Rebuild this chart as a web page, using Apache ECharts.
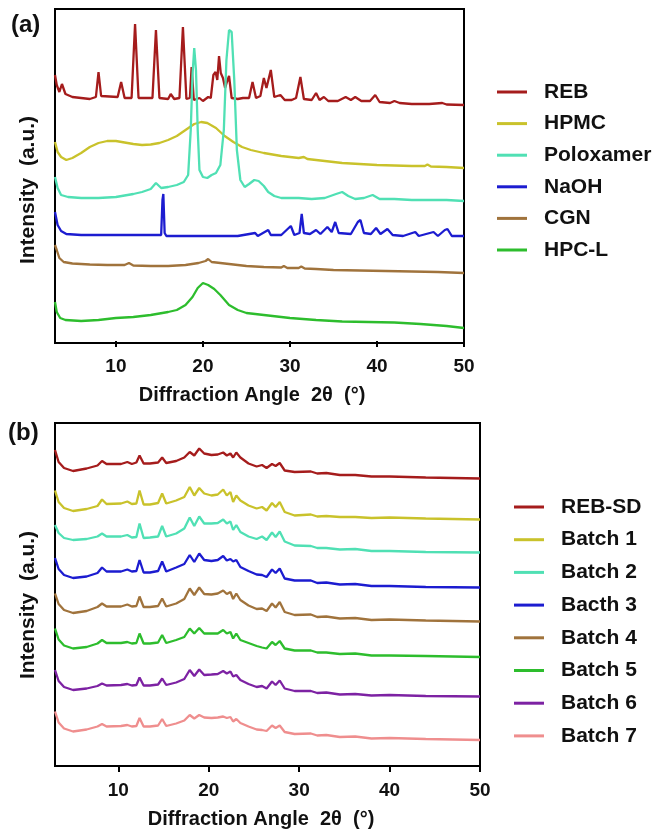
<!DOCTYPE html>
<html>
<head>
<meta charset="utf-8">
<script src="https://cdn.jsdelivr.net/npm/echarts@6/dist/echarts.min.js"></script>
<style>html,body{margin:0;padding:0;background:#fff;}#c{width:666px;height:833px;}</style>
</head>
<body>
<div id="c"></div>
<script>
// ---------- Panel (a): raw components, [2θ, intensity (a.u., offset)] ----------
const namesA = ['REB', 'HPMC', 'Poloxamer', 'NaOH', 'CGN', 'HPC-L'];
const REB = [[3,266],[3.2,256],[3.5,249],[3.8,257],[4.2,247],[5,244],[7,242],[7.7,244],[8.0,269],[8.3,245],[10.2,244],[10.6,259],[11.0,243],[11.8,243],[12.2,317],[12.6,243],[14.2,243],[14.6,311],[15.0,243],[16.0,242],[16.3,247],[16.7,242],[17.3,243],[17.7,314],[18.1,242],[18.5,243],[18.7,274],[18.95,241],[19.6,243],[20.0,240],[20.6,244],[20.9,243],[21.2,266],[21.45,269],[21.65,261],[21.85,285],[22.05,268],[22.3,263],[22.55,253],[22.75,259],[23.0,265],[23.3,243],[24,242],[24.6,243],[25.3,243],[25.7,259],[26.1,243],[26.6,245],[27.0,263],[27.3,253],[27.8,271],[28.2,244],[28.9,246],[29.4,241],[30.2,241],[30.7,243],[31.2,264],[31.6,242],[32.5,241],[33.0,248],[33.4,241],[33.9,244],[34.4,240],[35.5,240],[36.4,244],[37.0,241],[37.5,244],[38.2,240],[39.2,240],[39.8,246],[40.3,239],[41.5,238],[42,240],[42.6,238],[44,237],[46,237],[47.5,238],[48,236.5],[50,236]];
const HPMC = [[3,199],[3.3,189],[3.7,184],[4.3,181],[5,183],[6,188],[7,194],[8,198],[9,200],[10,200],[11,198.5],[12,197],[13,196],[14,196.5],[15,198],[16,201],[17,205],[18,211],[19,217],[19.8,219],[20.5,218],[21.5,213],[22.5,205],[23.5,199],[24.5,194],[25.5,191],[27,188],[29,185],[31,183],[31.6,184],[32,182],[34,180],[36,178],[38,177],[40,176],[42,175.5],[44,175],[45.5,175],[45.8,176.5],[46.2,174.5],[48,174],[50,173]];
const POLOXAMER = [[3,164],[3.3,153],[3.7,146],[4.5,144],[6,143],[8,143],[10,144],[12,147],[13,149],[14,152],[14.6,158],[15.2,153],[16,154],[17,156],[17.8,159],[18.3,166],[18.6,211],[18.8,266],[19.0,293],[19.2,271],[19.4,211],[19.6,171],[20,164],[20.5,163],[21,166],[21.5,168],[22,176],[22.4,211],[22.7,281],[23.0,311],[23.3,309],[23.6,261],[23.9,191],[24.3,161],[24.8,154],[25.3,157],[25.9,161],[26.4,160],[27.0,155],[27.5,149],[28.2,145],[29,143],[31,143],[32.5,142],[34,143],[35.3,147],[36,149],[36.7,145],[37.5,142],[38.5,143],[39.5,146],[40.3,142],[42,142],[44,141],[46,141],[48,141],[50,140]];
const NAOH = [[3,129],[3.3,116],[3.7,110],[4.3,107],[6,106],[10,106],[14,106],[15.2,106],[15.35,141],[15.45,147],[15.6,108],[15.8,105],[20,105],[24,105],[26,108],[26.3,105],[27.5,111],[27.8,106],[29,106],[30.1,115],[30.5,106],[31.1,108],[31.35,127],[31.6,108],[32.3,107],[33,111],[33.5,107],[34.3,114],[34.8,109],[35.2,119],[35.6,108],[37,107],[37.8,119],[38.1,121],[38.5,108],[39.3,107],[39.9,113],[40.4,107],[41.2,112],[41.8,106],[43,105],[44.4,109],[44.8,105],[46.5,109],[47,105],[47.8,111],[48.1,112],[48.6,105],[50,105]];
const CGN = [[3,96],[3.2,91],[3.5,83],[4,79],[5,77.5],[7,76.5],[9,76],[11,76],[11.5,78],[12,75.5],[14,75],[16,75],[18,76],[19.5,78],[20.3,80],[20.6,82],[21,79],[22,78],[23,77],[25,75],[27,74],[29,73.5],[29.3,75],[29.7,73],[31,73],[31.3,74.5],[31.7,72.5],[33,72],[35,71],[38,70.5],[41,70],[44,69.5],[47,69],[50,68]];
const HPCL = [[3,39],[3.2,29],[3.6,23],[4.2,21],[6,20],[8,21],[10,23],[12,24],[14,26],[16,29],[17,31],[18,36],[18.8,44],[19.4,53],[20,58],[20.6,56],[21.3,52],[22,46],[23,36],[24,31],[25,28],[27,26],[30,23],[33,21],[36,19.5],[39,19],[42,18.5],[45,17],[48,15],[50,13]];
const dataA = [REB, HPMC, POLOXAMER, NAOH, CGN, HPCL];

// ---------- Panel (b): formulations, shared 2θ grid ----------
const namesB = ['REB-SD', 'Batch 1', 'Batch 2', 'Bacth 3', 'Batch 4', 'Batch 5', 'Batch 6', 'Batch 7'];
const angleB = [3,3.4,4,5,6.5,7.7,8.2,8.7,10.3,11,11.5,12.0,12.35,12.8,13.5,14.4,14.85,15.3,16.4,17.3,17.9,18.4,18.95,19.5,20.3,21.0,21.6,22.0,22.4,22.7,23.05,23.5,24.4,25.3,25.9,26.4,27.0,27.4,27.85,28.4,29.5,31.3,32,33,34.5,36.2,38,40,44,50];
const REBSD = [316,304,298,295,297.5,300.5,305,302,302,304,302,303.5,310.5,302.5,302.5,303.5,308.5,303,305,308.5,314,310.5,317.5,312.5,311,311.5,313.5,310.5,312.5,308.5,313.5,308.5,302.5,299.5,301,298,302,300,303,295.5,294,294.5,292.5,293,291,291,289.5,289.5,288.5,287.5];
const BATCH1 = [275.5,264,258,255,257,260,266.5,262,262.5,264.5,262,262.5,275.5,261.5,261.5,263,272.5,262.5,265.5,269,279,270.5,278,272.5,270.5,271.5,276.5,270.5,274,264,270.5,265.5,260.5,257.5,259,255.5,263,259,264,254,250.5,251.5,249.5,250,249,249,248,248.5,247.5,246.5];
const BATCH2 = [241,233,228,226,227,229.5,232.5,229.5,229.5,231,228.5,229,242.5,228,228.5,229.5,240,229.5,232.5,237.5,248.5,240,249.5,242.5,242.5,243,246.5,242.5,244.5,236,241,234,229.5,227,229.5,226,233.5,229,234.5,224.5,220.5,220,218,218,216.5,217,215,215,214,213.5];
const BATCH3 = [208,197,191,188,189.5,193,198.5,194.5,194.5,196.5,194.5,195,206,193.5,193.5,195,204.5,194.5,198.5,202,211,204,212.5,206,205,206,210,205.5,207,204.5,206,199,195,191.5,191,189,196.5,193,197.5,187.5,185.5,185.5,183,183.5,181.5,182,180,180,179,178.5];
const BATCH4 = [172.5,162,156,153,155,159,162.5,159.5,159.5,161.5,159.5,160,169.5,159,159,160,167.5,159.5,162.5,167,177.5,171,178.5,172,171.5,172.5,175.5,172,174,167,172.5,166,160.5,157,157.5,155,162.5,158.5,164,154,151,151.5,149,149.5,147.5,148,146,146.5,145.5,144.5];
const BATCH5 = [137.5,126.5,120.5,117.5,119,122.5,126,123,123,124,122.5,123,132.5,122.5,122.5,123.5,131,123,126,129,137.5,132.5,138,132.5,132.5,132.5,136,132.5,134,127.5,132.5,126,123,120,118.5,117.5,124,121,125,117.5,115.5,115.5,113.5,113.5,112,112.5,110.5,110.5,110,109];
const BATCH6 = [96,85,79,76,77.5,80,82.5,80.5,81,82,80.5,81,88.5,80.5,80.5,81.5,87.5,81,83.5,87,96,90,96.5,91,91.5,92,95,92.5,94.5,89.5,91,86,82,79,80,77.5,84.5,81,85.5,77.5,75,75,73,73.5,71.5,72,70.5,71,70,69.5];
const BATCH7 = [54.5,43.5,37.5,34.5,36.5,39.5,42,39.5,40,41,39.5,40,48,39.5,39.5,40.5,47,40,42.5,45.5,51,47.5,51,48.5,48,48.5,49.5,48,49,44.5,47,43,39.5,36.5,36,35,40.5,38,40.5,34,32,32.5,30.5,31,29,29.5,27.5,28,27,26];
const dataB = [REBSD, BATCH1, BATCH2, BATCH3, BATCH4, BATCH5, BATCH6, BATCH7];

const xTicks = [10, 20, 30, 40, 50];
const colorsA = ['#a51c1c', '#c9c22b', '#50e0b4', '#1c1cd0', '#a0733c', '#2dbd2d'];
const colorsB = ['#a51c1c', '#c9c22b', '#50e0b4', '#1c1cd0', '#a0733c', '#2dbd2d', '#7d22a3', '#ef8e8e'];

const FONT = '"Liberation Sans", Arial, sans-serif';

function xAxisCfg(gridIndex, margin) {
  return {
    type: 'value', gridIndex: gridIndex, min: 3, max: 50,
    axisLine: { show: false },
    axisTick: { show: true, customValues: xTicks, length: 6, lineStyle: { color: '#000', width: 2 } },
    axisLabel: { show: true, customValues: xTicks, margin: margin, color: '#111', fontSize: 19, fontWeight: 'bold', fontFamily: FONT },
    splitLine: { show: false }
  };
}
function yAxisCfg(gridIndex, min, max) {
  return {
    type: 'value', gridIndex: gridIndex, min: min, max: max,
    axisLine: { show: false },
    axisTick: { show: false }, axisLabel: { show: false }, splitLine: { show: false }
  };
}

const series = [];
namesA.forEach((n, i) => series.push({
  name: n, type: 'line', xAxisIndex: 0, yAxisIndex: 0, data: dataA[i],
  showSymbol: false, symbol: 'none', color: colorsA[i],
  lineStyle: { width: 2.3, color: colorsA[i] }, silent: true, animation: false
}));
namesB.forEach((n, i) => series.push({
  name: n, type: 'line', xAxisIndex: 1, yAxisIndex: 1,
  data: angleB.map((a, k) => [a, dataB[i][k]]),
  showSymbol: false, symbol: 'none', color: colorsB[i],
  lineStyle: { width: 2.3, color: colorsB[i] }, silent: true, animation: false
}));

const legendText = { fontSize: 21, fontWeight: 'bold', fontFamily: FONT, color: '#111', lineHeight: 21, padding: [0, 0, 0, 12] };

const option = {
  animation: false,
  backgroundColor: '#fff',
  grid: [
    { left: 55, top: 9, width: 409, height: 334, show: true, borderColor: '#000', borderWidth: 2, backgroundColor: 'transparent' },
    { left: 55, top: 423, width: 425, height: 343, show: true, borderColor: '#000', borderWidth: 2, backgroundColor: 'transparent' }
  ],
  xAxis: [xAxisCfg(0, 14), xAxisCfg(1, 15)],
  yAxis: [yAxisCfg(0, -2, 332), yAxisCfg(1, 0, 343)],
  legend: [
    { data: namesA, orient: 'vertical', left: 492, top: 76.5, itemWidth: 30, itemHeight: 3, itemGap: 10.6, icon: 'rect', textStyle: legendText, selectedMode: false },
    { data: namesB, orient: 'vertical', left: 509, top: 491.5, itemWidth: 30, itemHeight: 3, itemGap: 11.7, icon: 'rect', textStyle: legendText, selectedMode: false }
  ],
  graphic: [
    { type: 'text', x: 11, y: 25, style: { text: '(a)', font: 'bold 24px ' + FONT, fill: '#111', verticalAlign: 'middle' } },
    { type: 'text', x: 8, y: 433, style: { text: '(b)', font: 'bold 24px ' + FONT, fill: '#111', verticalAlign: 'middle' } },
    { type: 'text', x: 252, y: 395, style: { text: 'Diffraction Angle  2θ  (°)', font: 'bold 20px ' + FONT, fill: '#111', align: 'center', verticalAlign: 'middle' } },
    { type: 'text', x: 261, y: 819, style: { text: 'Diffraction Angle  2θ  (°)', font: 'bold 20px ' + FONT, fill: '#111', align: 'center', verticalAlign: 'middle' } },
    { type: 'text', x: 28, y: 190, rotation: Math.PI / 2, style: { text: 'Intensity  (a.u.)', font: 'bold 21px ' + FONT, fill: '#111', align: 'center', verticalAlign: 'middle' } },
    { type: 'text', x: 28, y: 605, rotation: Math.PI / 2, style: { text: 'Intensity  (a.u.)', font: 'bold 21px ' + FONT, fill: '#111', align: 'center', verticalAlign: 'middle' } }
  ],
  series: series
};

const chart = echarts.init(document.getElementById('c'), null, { renderer: 'canvas' });
chart.setOption(option);
</script>
</body>
</html>
